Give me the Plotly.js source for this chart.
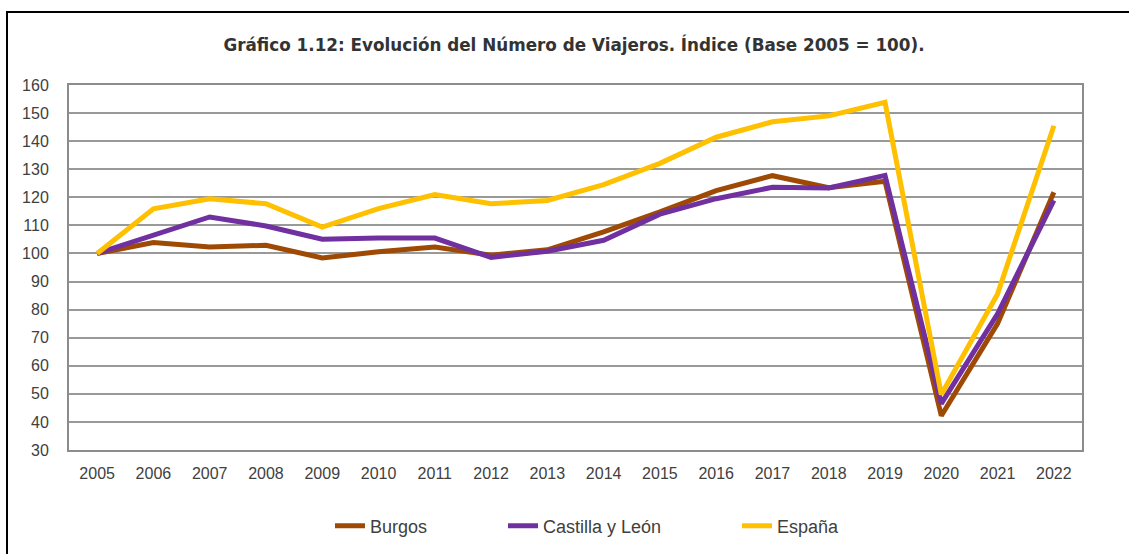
<!DOCTYPE html>
<html>
<head>
<meta charset="utf-8">
<script src="https://cdn.plot.ly/plotly-3.0.1.min.js"></script>
<style>
html,body{margin:0;padding:0;background:#fff;}
#chart{width:1129px;height:554px;}
#frame{position:absolute;left:6px;top:11px;width:1200px;height:600px;border-left:2px solid #000;border-top:2px solid #000;pointer-events:none;}
</style>
</head>
<body>
<div id="chart"></div>
<div id="frame"></div>
<script>
const years = ['2005','2006','2007','2008','2009','2010','2011','2012','2013','2014','2015','2016','2017','2018','2019','2020','2021','2022'];
const burgos = [100, 103.9, 102.3, 102.9, 98.4, 100.6, 102.3, 99.4, 101.3, 107.7, 114.8, 122.4, 127.7, 123.4, 125.7, 42.2, 75, 121.8];
const castillaLeon = [100, 106.5, 113, 109.8, 105.1, 105.5, 105.5, 98.6, 100.8, 104.7, 114, 119.5, 123.6, 123.3, 127.8, 46.5, 78.5, 118.9];
const espana = [100, 115.9, 119.5, 117.7, 109.4, 116, 121, 117.7, 118.9, 124.5, 132.1, 141.4, 146.9, 149, 153.8, 49.8, 85.6, 145.5];
const seriesNames = ['Burgos', 'Castilla y León', 'España'];
const yTicks = [30,40,50,60,70,80,90,100,110,120,130,140,150,160];

const colors = ['#9E4A05', '#7030A0', '#FFC000'];
const vals = [burgos, castillaLeon, espana];
const legendIds = ['legend', 'legend2', 'legend3'];
const traces = vals.map((v, i) => ({
  type: 'scatter', mode: 'lines', x: years, y: v, name: seriesNames[i],
  line: {color: colors[i], width: 5}, legend: legendIds[i]
}));

const FONT = 'Liberation Sans, Arial, sans-serif';
const legX = [330, 503, 737];
function leg(i) {
  return {
    orientation: 'h', xref: 'container', yref: 'container',
    x: legX[i] / 1129, xanchor: 'left',
    y: 1 - 526 / 554, yanchor: 'middle',
    font: {family: FONT, size: 18, color: '#404040'},
    bgcolor: 'rgba(0,0,0,0)', borderwidth: 0
  };
}

const layout = {
  width: 1129, height: 554,
  paper_bgcolor: '#fff', plot_bgcolor: '#fff',
  margin: {l: 69, r: 47, t: 85, b: 104},
  font: {family: FONT, color: '#404040', size: 16},
  title: {
    text: 'Gráfico 1.12: Evolución del Número de Viajeros. Índice (Base 2005 = 100).',
    font: {family: 'DejaVu Sans, Verdana, sans-serif', size: 16.8, color: '#333333', weight: 'bold'},
    x: 574/1129, xanchor: 'center', xref: 'container',
    y: 1 - 45/554, yanchor: 'middle', yref: 'container'
  },
  xaxis: {
    type: 'category', range: [-0.5, 17.5],
    showgrid: false, zeroline: false,
    showline: true, linecolor: '#8c8c8c', linewidth: 2, mirror: true,
    ticks: 'outside', ticklen: 8, tickcolor: 'rgba(0,0,0,0)',
    tickfont: {family: FONT, size: 16, color: '#404040'}
  },
  yaxis: {
    range: [30, 160], tickvals: yTicks, ticktext: yTicks.map(String),
    showgrid: true, gridcolor: '#999999', gridwidth: 2, zeroline: false,
    showline: true, linecolor: '#8c8c8c', linewidth: 2, mirror: true,
    ticks: 'outside', ticklen: 15, tickcolor: 'rgba(0,0,0,0)',
    tickfont: {family: FONT, size: 16, color: '#404040'}
  },
  showlegend: true,
  legend: leg(0), legend2: leg(1), legend3: leg(2)
};

Plotly.newPlot('chart', traces, layout, {displayModeBar: false, staticPlot: true});
</script>
</body>
</html>
